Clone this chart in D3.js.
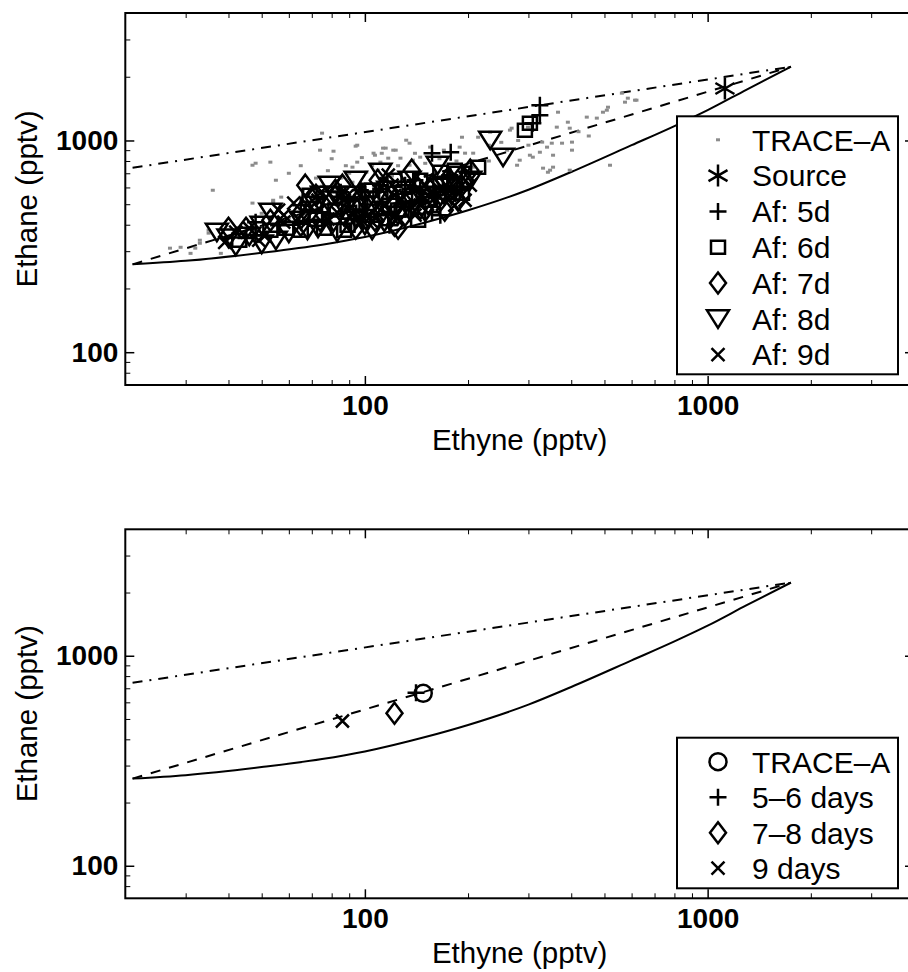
<!DOCTYPE html>
<html>
<head>
<meta charset="utf-8">
<script src="https://cdn.jsdelivr.net/npm/d3@7"></script>
<style>
  html, body { margin: 0; padding: 0; background: #fff; }
  svg text { font-family: "Liberation Sans", Arial, Helvetica, sans-serif; fill: #000; }
</style>
</head>
<body>
<svg id="chart" width="908" height="972"></svg>
<script>
// axis ranges and ticks
const xDomain = [20, 4000];
const yDomain = [70, 4000];
const majorTicks = [100, 1000];
const xMinorTicks = [30, 40, 50, 60, 70, 80, 90, 200, 300, 400, 500, 600, 700, 800, 900, 2000, 3000];
const yMinorTicks = [80, 90, 200, 300, 400, 500, 600, 700, 800, 900, 2000, 3000];

// model curves (ethyne, ethane)
const mixingLine = [[21, 260], [30, 270], [50, 295], [75, 322], [100, 350], [150, 410], [200, 468],
    [300, 585], [400, 710], [600, 950], [800, 1170], [1000, 1390], [1300, 1740], [1750, 2230]];
const decayLine = [[21, 260], [1750, 2230]];
const dilutionLine = [[21, 743], [1750, 2230]];

// top panel: observations
const traceA = [[75,1083],[74,900],[81,890],[94,940],[106,871],[115,920],[123,900],[132,1003],[107,852],
    [117,825],[127,825],[53,790],[47,764],[95,790],[55,649],[85,664],[36,582],[75,608],[70,602],[47,506],
    [54,511],[65,540],[83,595],[92,635],[69,453],[74,458],[35,377],[33,338],[27,310],[29,313],[32,310],
    [40,327],[62,407],[135,971],[155,930],[138,807],[95,950],[113,920],[121,900],[92,748],[101,708],
    [109,724],[111,790],[48,781],[72,664],[86,671],[66,582],[57,540],[54,522],[50,453],[68,453],[35,365],
    [33,327],[31,293],[38,293],[135,764],[145,834],[192,1036],[207,871],[366,1360],[391,1220],[396,1143],
    [363,1156],[444,1289],[495,1360],[512,1436],[402,982],[376,971],[402,900],[354,852],[324,880],
    [303,852],[283,807],[278,764],[331,740],[342,708],[354,748],[396,724],[265,1119],[329,982],[585,1584],
    [614,1550],[562,1673],[508,1390],[475,1275],[340,930],[519,764],[347,724],[309,834],[214,1036],
    [232,1094],[268,1143],[299,1156],[260,900],[196,871],[189,930],[207,748],[351,971],[574,1517],
    [620,1550],[60,430],[70,500],[90,480],[110,520],[130,560],[150,600],[180,650],[100,600],[120,680],
    [160,700],[200,700],[230,800],[80,820],[88,760],[98,830],[105,760],[112,870],[125,760],[140,870],
    [150,780],[165,820],[170,900],[185,800],[60,700],[65,760],[78,720],[90,700],[250,980],[280,1000],
    [300,950],[420,1100],[450,1050],[230,950]];
const source = [[1123, 1760]];
const af5d = [[157,871],[178,880],[324,1468],[324,1317],[309,1207],[111,615],[90,522],[69,469],[145,582],
    [48,357],[79,444],[85,570],[100,469],[117,444],[131,615],[160,551],[177,686],[45,346],[56,398],
    [65,495],[75,458],[97,582],[118,398],[140,649],[166,444],[189,582],[157,458],[48,411]];
const af6d = [[65,377],[59,385],[131,522],[166,615],[192,564],[214,748],[293,1119],[303,1207],[82,469],
    [111,551],[145,649],[97,495],[183,724],[125,469],[72,425],[79,535],[90,458],[103,582],[118,495],
    [135,551],[155,522],[174,570],[53,377],[43,338],[69,551],[76,385],[89,398],[105,582],[122,649],
    [143,420],[166,708],[183,615],[92,495],[128,469],[177,635],[87,377]];
const af7d = [[40,385],[53,420],[65,458],[76,495],[87,444],[98,551],[107,420],[122,495],[140,551],
    [157,615],[175,664],[187,522],[203,724],[122,398],[94,385],[72,551],[82,582],[92,411],[103,495],
    [114,551],[131,444],[150,469],[166,522],[183,615],[196,649],[45,385],[67,615],[74,420],[86,615],
    [95,469],[109,649],[125,385],[137,724],[171,469],[192,686],[76,444],[112,458],[143,595],[187,582],
    [65,398]];
const af8d = [[37,369],[40,346],[42,317],[46,353],[50,324],[55,338],[60,365],[73,385],[81,411],[94,430],
    [105,454],[114,411],[125,444],[135,469],[153,495],[166,546],[179,552],[203,649],[232,1003],[253,834],
    [90,551],[72,495],[127,582],[75,551],[86,495],[102,522],[117,582],[135,649],[150,551],[171,615],
    [189,686],[65,420],[50,398],[68,377],[83,369],[100,398],[120,444],[145,469],[79,615],[94,649],
    [111,708],[163,764],[82,551],[107,522],[137,522],[171,551],[105,377],[53,458]];
const af9d = [[42,369],[46,385],[51,353],[56,469],[62,506],[58,411],[74,564],[83,458],[97,444],[111,469],
    [127,522],[145,495],[166,582],[68,495],[78,425],[89,551],[105,411],[120,615],[140,444],[155,649],
    [177,551],[39,330],[49,338],[64,425],[73,522],[87,522],[102,444],[117,686],[131,495],[150,615],
    [183,495],[203,615],[98,420],[122,551],[153,551],[196,522],[58,444]];

// bottom panel: means
const meanTraceA = [[148, 662]];
const mean56 = [[141, 666]];
const mean78 = [[122, 532]];
const mean9 = [[86, 489]];

const topLegend = ['TRACE\u2013A', 'Source', 'Af: 5d', 'Af: 6d', 'Af: 7d', 'Af: 8d', 'Af: 9d'];
const bottomLegend = ['TRACE\u2013A', '5\u20136 days', '7\u20138 days', '9 days'];

const symbolPaths = {
    plus: 'M-8.5,0H8.5M0,-8.5V8.5',
    cross: 'M-6.5,-6.5L6.5,6.5M-6.5,6.5L6.5,-6.5',
    square: 'M-7,-6.5H7V6.5H-7Z',
    diamond: 'M0,-10.5L8,0L0,10.5L-8,0Z',
    triangle: 'M-11,-8.5H11L0,9Z',
    star: 'M0,-11V11M-9.5,-5.5L9.5,5.5M-9.5,5.5L9.5,-5.5',
    circle: 'M8.5,0A8.5,8.5,0,1,1,-8.5,0A8.5,8.5,0,1,1,8.5,0Z'
};

const frameLeft = 125.3, frameRight = 914;
const svg = d3.select('#chart');

function drawSymbols(g, data, x, y, shape) {
    g.selectAll(null)
        .data(data)
      .enter().append('path')
        .attr('d', symbolPaths[shape])
        .attr('transform', d => 'translate(' + x(d[0]) + ',' + y(d[1]) + ')')
        .attr('fill', 'none')
        .attr('stroke', '#000')
        .attr('stroke-width', 2.5);
}

function drawGray(g, data, x, y) {
    g.selectAll(null)
        .data(data)
      .enter().append('rect')
        .attr('x', d => x(d[0]) - 2)
        .attr('y', d => y(d[1]) - 1.5)
        .attr('width', 4)
        .attr('height', 3)
        .attr('fill', '#8c8c8c');
}

function drawPanel(id, top, bottom, plotFn, legend) {
    let x = d3.scaleLog().domain(xDomain).range([frameLeft, frameRight]),
        y = d3.scaleLog().domain(yDomain).range([bottom, top]);
    let g = svg.append('g');

    g.append('clipPath').attr('id', id)
      .append('rect')
        .attr('x', frameLeft).attr('y', top)
        .attr('width', frameRight - frameLeft).attr('height', bottom - top);

    let plot = g.append('g').attr('clip-path', 'url(#' + id + ')');

    let line = d3.line().x(d => x(d[0])).y(d => y(d[1]));
    plot.append('path').datum(mixingLine)
        .attr('d', line.curve(d3.curveMonotoneX))
        .attr('fill', 'none').attr('stroke', '#000').attr('stroke-width', 2);
    plot.append('path').datum(decayLine)
        .attr('d', d3.line().x(d => x(d[0])).y(d => y(d[1])))
        .attr('fill', 'none').attr('stroke', '#000').attr('stroke-width', 2)
        .attr('stroke-dasharray', '10,9');
    plot.append('path').datum(dilutionLine)
        .attr('d', d3.line().x(d => x(d[0])).y(d => y(d[1])))
        .attr('fill', 'none').attr('stroke', '#000').attr('stroke-width', 2)
        .attr('stroke-dasharray', '10,7,2,7');

    plotFn(plot, x, y);

    // ticks pointing into the frame on all four sides
    let axes = [
        [d3.axisBottom(x), bottom, 'x'], [d3.axisTop(x), top, 'x'],
        [d3.axisLeft(y), frameLeft, 'y'], [d3.axisRight(y), frameRight, 'y']
    ];
    axes.forEach(([axisFn, pos, dir], i) => {
        let minor = dir === 'x' ? xMinorTicks : yMinorTicks;
        let tr = dir === 'x' ? 'translate(0,' + pos + ')' : 'translate(' + pos + ',0)';
        g.append('g').attr('transform', tr)
            .call(axisFn.tickValues(minor).tickSizeInner(-5).tickSizeOuter(0).tickFormat(''))
            .call(a => a.select('.domain').remove());
        let major = g.append('g').attr('transform', tr)
            .call(axisFn.tickValues(majorTicks).tickSizeInner(-9).tickSizeOuter(0)
                .tickPadding(i === 0 ? 10 : 7)
                .tickFormat(i < 1 || i === 2 ? d3.format('d') : ''));
        major.select('.domain').remove();
        major.selectAll('line').attr('stroke-width', 1.5);
        major.selectAll('text').attr('font-size', 28).attr('font-weight', 'bold');
        major.attr('font-family', null);
    });
    g.selectAll('.tick line').attr('stroke', '#000');

    g.append('rect')
        .attr('x', frameLeft).attr('y', top)
        .attr('width', frameRight - frameLeft).attr('height', bottom - top)
        .attr('fill', 'none').attr('stroke', '#000').attr('stroke-width', 2);

    g.append('text')
        .attr('x', (frameLeft + frameRight) / 2)
        .attr('y', bottom + 65)
        .attr('text-anchor', 'middle')
        .attr('font-size', 29.5)
        .text('Ethyne (pptv)');
    g.append('text')
        .attr('transform', 'translate(37,' + (top + bottom) / 2 + ') rotate(-90)')
        .attr('text-anchor', 'middle')
        .attr('font-size', 29.5)
        .text('Ethane (pptv)');

    // legend
    let lg = g.append('g');
    lg.append('rect')
        .attr('x', legend.x).attr('y', legend.y)
        .attr('width', legend.w).attr('height', legend.h)
        .attr('fill', '#fff').attr('stroke', '#000').attr('stroke-width', 2);
    legend.labels.forEach((label, i) => {
        let cy = legend.y + legend.first + i * legend.step;
        let shape = legend.shapes[i];
        if (shape === 'dot') {
            lg.append('rect').attr('x', legend.x + 39).attr('y', cy - 1.5)
                .attr('width', 4).attr('height', 3).attr('fill', '#8c8c8c');
        } else {
            lg.append('path').attr('d', symbolPaths[shape])
                .attr('transform', 'translate(' + (legend.x + 41) + ',' + cy + ')')
                .attr('fill', 'none').attr('stroke', '#000').attr('stroke-width', 2.5);
        }
        lg.append('text')
            .attr('x', legend.x + 75).attr('y', cy)
            .attr('dy', '0.36em')
            .attr('font-size', 30)
            .text(label);
    });
}

drawPanel('clip-top', 13, 385, (plot, x, y) => {
    drawGray(plot, traceA, x, y);
    drawSymbols(plot, af5d, x, y, 'plus');
    drawSymbols(plot, af6d, x, y, 'square');
    drawSymbols(plot, af7d, x, y, 'diamond');
    drawSymbols(plot, af8d, x, y, 'triangle');
    drawSymbols(plot, af9d, x, y, 'cross');
    drawSymbols(plot, source, x, y, 'star');
}, {
    x: 677, y: 116.3, w: 221, h: 258, first: 23.5, step: 35.8,
    labels: topLegend, shapes: ['dot', 'star', 'plus', 'square', 'diamond', 'triangle', 'cross']
});

drawPanel('clip-bottom', 529.3, 898.3, (plot, x, y) => {
    drawSymbols(plot, meanTraceA, x, y, 'circle');
    drawSymbols(plot, mean56, x, y, 'plus');
    drawSymbols(plot, mean78, x, y, 'diamond');
    drawSymbols(plot, mean9, x, y, 'cross');
}, {
    x: 677, y: 737.7, w: 221, h: 150.6, first: 24, step: 35.5,
    labels: bottomLegend, shapes: ['circle', 'plus', 'diamond', 'cross']
});
</script>
</body>
</html>
